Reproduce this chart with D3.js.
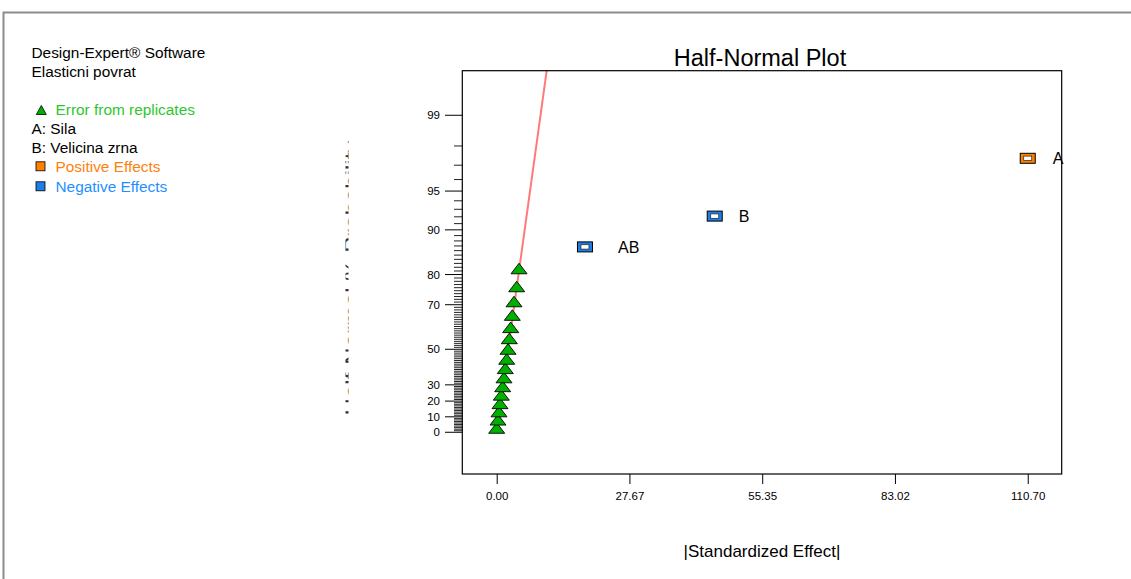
<!DOCTYPE html>
<html>
<head>
<meta charset="utf-8">
<script src="https://cdn.jsdelivr.net/npm/d3@7/dist/d3.min.js"></script>
<style>
  html, body { margin: 0; padding: 0; background: #fff; }
  svg { display: block; }
  text { font-family: "Liberation Sans", Arial, sans-serif; }
</style>
</head>
<body>
<svg id="chart" width="1131" height="579"></svg>
<script>
// ---------------- data ----------------
const chartTitle = "Half-Normal Plot";
const xAxisTitle = "|Standardized Effect|";
const yAxisTitle = "Half-Normal % Probability";
const legendHeader = ["Design-Expert\u00AE Software", "Elasticni povrat"];
const factorNames = ["A: Sila", "B: Velicina zrna"];

// error-from-replicates points: |effect| and half-normal % probability
const errorEffects = [0.00, 0.27, 0.48, 0.69, 0.96, 1.25, 1.52, 1.79, 2.08, 2.36, 2.63, 2.92, 3.25, 3.61, 4.17, 4.65];
const errorProbs   = [2.6, 7.9, 13.2, 18.4, 23.7, 28.9, 34.2, 39.5, 44.7, 50.0, 55.3, 60.5, 65.8, 71.1, 76.3, 81.6];

// model effects
const effectNames  = ["AB", "B", "A"];
const effectValues = [18.4, 45.45, 110.7];
const effectProbs  = [86.8, 92.1, 97.4];
const effectSigns  = ["negative", "negative", "positive"];

// half-normal reference line (|effect|, % probability)
const lineEffects = [0, 10.42];
const lineProbs   = [0, 99.67];

// axis ticks
const xTicks = [0.00, 27.67, 55.35, 83.02, 110.70];
const yTickLabels = [0, 10, 20, 30, 50, 70, 80, 90, 95, 99];

// ---------------- helpers ----------------
function probit(p) {
  // Acklam inverse normal CDF
  const a = [-3.969683028665376e+01, 2.209460984245205e+02, -2.759285104469687e+02, 1.383577518672690e+02, -3.066479806614716e+01, 2.506628277459239e+00];
  const b = [-5.447609879822406e+01, 1.615858368580409e+02, -1.556989798598866e+02, 6.680131188771972e+01, -1.328068155288572e+01];
  const c = [-7.784894002430293e-03, -3.223964580411365e-01, -2.400758277161838e+00, -2.549671010283882e+00, 4.374664141464968e+00, 2.938163982698783e+00];
  const d = [7.784695709041462e-03, 3.224671290700398e-01, 2.445134137142996e+00, 3.754408661907416e+00];
  const pl = 0.02425, ph = 1 - pl;
  let q, r;
  if (p < pl) {
    q = Math.sqrt(-2 * Math.log(p));
    return (((((c[0]*q+c[1])*q+c[2])*q+c[3])*q+c[4])*q+c[5]) / ((((d[0]*q+d[1])*q+d[2])*q+d[3])*q+1);
  } else if (p <= ph) {
    q = p - 0.5; r = q*q;
    return (((((a[0]*r+a[1])*r+a[2])*r+a[3])*r+a[4])*r+a[5])*q / (((((b[0]*r+b[1])*r+b[2])*r+b[3])*r+b[4])*r+1);
  } else {
    q = Math.sqrt(-2 * Math.log(1 - p));
    return -(((((c[0]*q+c[1])*q+c[2])*q+c[3])*q+c[4])*q+c[5]) / ((((d[0]*q+d[1])*q+d[2])*q+d[3])*q+1);
  }
}
const halfNormalZ = pct => probit(0.5 + pct / 200);

// ---------------- layout ----------------
const svg = d3.select("#chart");
const plot = { left: 462.3, right: 1061.7, top: 70.7, bottom: 474 };

const x = d3.scaleLinear()
  .domain([-7.17, 117.78])
  .range([plot.left, plot.right]);

const zScale = d3.scaleLinear()
  .domain([-0.339, 2.938])
  .range([plot.bottom, plot.top]);
const y = pct => zScale(halfNormalZ(pct));

const font = '"Liberation Sans", Arial, sans-serif';

// outer frame (top + left edge visible)
svg.append("path")
  .attr("d", `M3.5,579 L3.5,12.5 L1131,12.5`)
  .attr("fill", "none").attr("stroke", "#8c8c8c").attr("stroke-width", 2);

// ---------------- legend ----------------
const LFS = 15.4;
const lg = svg.append("g");
legendHeader.forEach((t, i) => {
  lg.append("text").attr("x", 31.5).attr("y", 58 + i * 19)
    .attr("font-size", LFS).attr("fill", "#000").text(t);
});
lg.append("path")
  .attr("d", "M41.3,105.5 L46.3,114.5 L36.3,114.5 Z")
  .attr("fill", "#00b000").attr("stroke", "#000").attr("stroke-width", 0.8);
lg.append("text").attr("x", 55.5).attr("y", 115).attr("font-size", LFS)
  .attr("fill", "#2ec62e").text("Error from replicates");
factorNames.forEach((t, i) => {
  lg.append("text").attr("x", 31.5).attr("y", 134 + i * 19)
    .attr("font-size", LFS).attr("fill", "#000").text(t);
});
const legendEffects = [
  { label: "Positive Effects", fill: "#ff7f00", text: "#ff7f0e" },
  { label: "Negative Effects", fill: "#1c7fe6", text: "#1f8fff" }
];
legendEffects.forEach((e, i) => {
  const cy = 166.3 + i * 20;
  lg.append("rect").attr("x", 36).attr("y", cy - 4.5).attr("width", 9).attr("height", 9)
    .attr("fill", e.fill).attr("stroke", "#000").attr("stroke-width", 0.8);
  lg.append("text").attr("x", 55.5).attr("y", cy + 5.3).attr("font-size", LFS)
    .attr("fill", e.text).text(e.label);
});

// ---------------- y axis title (clipped fragments) ----------------
svg.append("clipPath").attr("id", "ytclip")
  .append("rect").attr("x", 345.5).attr("y", 130).attr("width", 3).attr("height", 300);
svg.append("g").attr("clip-path", "url(#ytclip)")
  .append("text")
  .attr("transform", `translate(361,278) rotate(-90)`)
  .attr("text-anchor", "middle")
  .attr("font-size", 24)
  .attr("fill", "#333")
  .text(yAxisTitle);

// ---------------- title ----------------
svg.append("text")
  .attr("x", (plot.left + plot.right) / 2 - 2).attr("y", 66)
  .attr("text-anchor", "middle").attr("font-size", 23.5).attr("fill", "#000")
  .text(chartTitle);

// ---------------- y axis (probability ticks) ----------------
const yAx = svg.append("g");
const minorPcts = d3.range(0, 100, 1).filter(p => !yTickLabels.includes(p));
yAx.selectAll("line.minor").data(minorPcts).enter().append("line")
  .attr("class", "minor")
  .attr("x1", 454).attr("x2", plot.left)
  .attr("y1", d => y(d)).attr("y2", d => y(d))
  .attr("stroke", "#222").attr("stroke-width", 1);
yAx.selectAll("line.major").data(yTickLabels).enter().append("line")
  .attr("class", "major")
  .attr("x1", 445).attr("x2", plot.left)
  .attr("y1", d => y(d)).attr("y2", d => y(d))
  .attr("stroke", "#000").attr("stroke-width", 1);
yAx.selectAll("text").data(yTickLabels).enter().append("text")
  .attr("x", 440).attr("y", d => y(d)).attr("dy", "0.35em")
  .attr("text-anchor", "end").attr("font-size", 11.5).attr("fill", "#000")
  .text(d => d);

// ---------------- x axis ----------------
const xAxis = d3.axisBottom(x)
  .tickValues(xTicks)
  .tickFormat(d3.format(".2f"))
  .tickSize(10)
  .tickSizeOuter(0);
const xg = svg.append("g").attr("transform", `translate(0,${plot.bottom})`).call(xAxis);
xg.select(".domain").remove();
xg.selectAll(".tick line").attr("stroke", "#000");
xg.selectAll(".tick text").attr("font-family", font).attr("font-size", 11.5)
  .attr("fill", "#000").attr("y", 22).attr("dy", "0.35em");

svg.append("text")
  .attr("x", (plot.left + plot.right) / 2).attr("y", 557)
  .attr("text-anchor", "middle").attr("font-size", 17).attr("fill", "#000")
  .text(xAxisTitle);

// ---------------- plot frame ----------------
svg.append("clipPath").attr("id", "plotclip")
  .append("rect").attr("x", plot.left).attr("y", plot.top)
  .attr("width", plot.right - plot.left).attr("height", plot.bottom - plot.top);

// reference line
const linePts = lineEffects.map((e, i) => [x(e), y(lineProbs[i])]);
svg.append("path")
  .attr("clip-path", "url(#plotclip)")
  .attr("d", d3.line()(linePts))
  .attr("fill", "none").attr("stroke", "#ff7a7a").attr("stroke-width", 2);

// error triangles
const errData = errorEffects.map((e, i) => ({ e, p: errorProbs[i] }));
svg.append("g").selectAll("path").data(errData).enter().append("path")
  .attr("transform", d => `translate(${x(d.e)},${y(d.p)})`)
  .attr("d", "M0,-5.5 L8,5 L-8,5 Z")
  .attr("fill", "#00b000").attr("stroke", "#000").attr("stroke-width", 0.9);

// effect boxes
const effData = effectNames.map((n, i) => ({ n, e: effectValues[i], p: effectProbs[i], s: effectSigns[i] }));
const labelDx = { A: 25, B: 24, AB: 33 };
const eg = svg.append("g").selectAll("g").data(effData).enter().append("g")
  .attr("transform", d => `translate(${x(d.e)},${y(d.p)})`);
eg.append("rect").attr("x", -7.5).attr("y", -5).attr("width", 15).attr("height", 10)
  .attr("fill", d => d.s === "positive" ? "#ff7f00" : "#1c7fe6")
  .attr("stroke", "#000").attr("stroke-width", 1);
eg.append("rect").attr("x", -4).attr("y", -2.2).attr("width", 8).attr("height", 4.4)
  .attr("fill", "#fff").attr("stroke", "#222").attr("stroke-width", 0.7);
eg.append("text").attr("x", d => labelDx[d.n] || 25).attr("y", 0).attr("dy", "0.38em")
  .attr("font-size", 16).attr("fill", "#000").text(d => d.n);

// frame (drawn last)
svg.append("rect")
  .attr("x", plot.left).attr("y", plot.top)
  .attr("width", plot.right - plot.left).attr("height", plot.bottom - plot.top)
  .attr("fill", "none").attr("stroke", "#000").attr("stroke-width", 1.2);
</script>
</body>
</html>
